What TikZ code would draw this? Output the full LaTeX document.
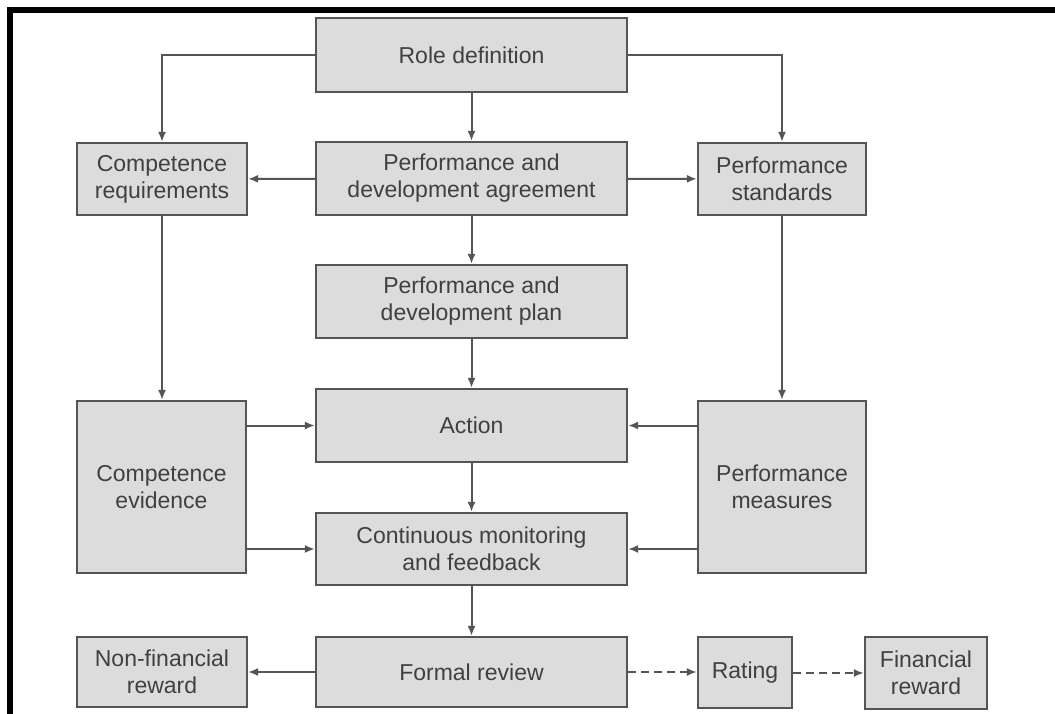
\documentclass[tikz,border=0pt]{standalone}
\usepackage{fontspec}
\setmainfont{Liberation Sans}
\usetikzlibrary{arrows.meta}
\definecolor{boxfill}{HTML}{DCDCDC}
\definecolor{boxline}{HTML}{555555}
\definecolor{ink}{HTML}{404040}
\tikzset{
  box/.style={draw=boxline, fill=boxfill, line width=2.2pt, inner sep=0pt,
    align=center, text=ink, font=\fontsize{23}{27}\selectfont},
  flow/.style={draw=boxline, line width=2pt, -{Latex[length=10pt,width=8pt]}},
  optflow/.style={flow, dash pattern=on 8pt off 5pt},
}
\begin{document}
\begin{tikzpicture}[x=1pt, y=-1pt]
\useasboundingbox (0,0) rectangle (1055,714);
\fill[white] (0,0) rectangle (1055,714);
% frame lines along the top and left edges
\draw[line width=6pt, black] (10,714) -- (10,10) -- (1055,10);

% central column
\node[box, minimum width=311pt, minimum height=74pt] (rd)  at (471.5,55)    {Role definition};
\node[box, minimum width=311pt, minimum height=73pt] (pda) at (471.5,178.5) {Performance and\\development agreement};
\node[box, minimum width=311pt, minimum height=73pt] (pdp) at (471.5,301.5) {Performance and\\development plan};
\node[box, minimum width=311pt, minimum height=73pt] (act) at (471.5,425.5) {Action};
\node[box, minimum width=311pt, minimum height=72pt] (cmf) at (471.5,549)   {Continuous monitoring\\and feedback};
\node[box, minimum width=311pt, minimum height=70pt] (frv) at (471.5,672)   {Formal review};

% left column
\node[box, minimum width=170pt, minimum height=72pt]  (cr)  at (162,179) {Competence\\requirements};
\node[box, minimum width=169pt, minimum height=172pt] (ce)  at (161.5,487) {Competence\\evidence};
\node[box, minimum width=170pt, minimum height=70pt]  (nfr) at (162,672) {Non-financial\\reward};

% right column
\node[box, minimum width=168pt, minimum height=72pt]  (ps)  at (782,179) {Performance\\standards};
\node[box, minimum width=168pt, minimum height=172pt] (pm)  at (782,487) {Performance\\measures};
\node[box, minimum width=94pt,  minimum height=71pt]  (rat) at (745,672.5) {Rating};
\node[box, minimum width=122pt, minimum height=72pt]  (fin) at (926,673) {Financial\\reward};

% connectors
\draw[flow] (rd.west) -| (cr.north);
\draw[flow] (rd.east) -| (ps.north);
\draw[flow] (rd) -- (pda);
\draw[flow] (pda) -- (cr);
\draw[flow] (pda) -- (ps);
\draw[flow] (pda) -- (pdp);
\draw[flow] (pdp) -- (act);
\draw[flow] (cr.south) -- (cr.south |- ce.north);
\draw[flow] (ps.south) -- (ps.south |- pm.north);
\draw[flow] (act.west -| ce.east) -- (act.west);
\draw[flow] (cmf.west -| ce.east) -- (cmf.west);
\draw[flow] (act.east -| pm.west) -- (act.east);
\draw[flow] (cmf.east -| pm.west) -- (cmf.east);
\draw[flow] (act) -- (cmf);
\draw[flow] (cmf) -- (frv);
\draw[flow] (frv) -- (nfr);
\draw[optflow] (frv.east) -- (frv.east -| rat.west);
\draw[optflow] (rat.east |- fin.west) -- (fin.west);
\end{tikzpicture}
\end{document}
